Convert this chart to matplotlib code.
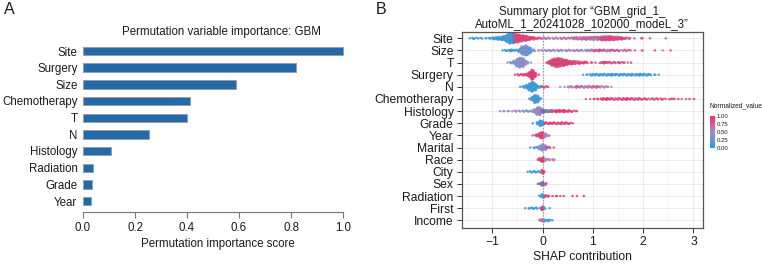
import numpy as np
import matplotlib
matplotlib.use("Agg")
import matplotlib.pyplot as plt
from matplotlib.colors import LinearSegmentedColormap, Normalize
from matplotlib.colorbar import ColorbarBase

plt.rcParams['font.family'] = ['Liberation Sans', 'DejaVu Sans']

# ---------------- Panel A data ----------------
perm_features = ["Site", "Surgery", "Size", "Chemotherapy", "T", "N",
                 "Histology", "Radiation", "Grade", "Year"]
perm_scores = [1.00, 0.82, 0.59, 0.41, 0.40, 0.253, 0.106, 0.037, 0.033, 0.030]
perm_ticks = [0.0, 0.2, 0.4, 0.6, 0.8, 1.0]

# ---------------- Panel B data ----------------
shap_features = ["Site", "Size", "T", "Surgery", "N", "Chemotherapy", "Histology",
                 "Grade", "Year", "Marital", "Race", "City", "Sex", "Radiation",
                 "First", "Income"]
shap_ticks = [-1, 0, 1, 2, 3]
BIN = 0.05  # width of each SHAP bin

# bin counts (visible dots per 0.05-wide bin), starting at *_start
site_start = -1.45
site_counts = [1, 2, 2, 1, 1, 2, 1, 1, 2, 3,
               4, 5, 6, 8, 10, 16, 25, 22, 20, 18,
               16, 13, 11, 9, 7, 5, 4, 3, 2, 2,
               2, 2, 2, 2, 2, 2, 2, 2, 2, 2,
               2, 3, 4, 5, 5, 5, 5, 6, 6, 6,
               6, 7, 7, 8, 9, 9, 8, 8, 7, 6,
               5, 4, 3, 2, 1, 0, 1, 0, 1, 1,
               0, 0, 1, 0, 0, 0, 0, 0, 1]
site_colors = [(-0.575, 0.0, 0.15), (-0.025, 0.8, 0.95), (0.575, 0.5, 0.7),
               (1.125, 0.55, 0.8), (9, 0.8, 0.95)]

size_start = -0.80
size_counts = [1, 2, 2, 3, 3, 2, 3, 8, 18, 22,
               20, 12, 4, 2, 1, 1, 2, 2, 2, 2,
               2, 2, 2, 2, 2, 2, 2, 2, 2, 2,
               2, 2, 2, 2, 3, 3, 3, 3, 3, 3,
               3, 3, 3, 3, 2, 2, 2, 2, 2, 2,
               2, 1, 0, 1, 0, 1, 1, 0, 0, 0,
               0, 1, 0, 0, 1, 0, 0, 1]
size_colors = [(-0.475, 0.0, 0.2), (-0.175, 0.1, 0.45), (1.0, 0.4, 0.6), (9, 0.6, 0.9)]

t_start = -0.70
t_counts = [1, 2, 3, 8, 16, 22, 20, 12, 4, 1,
            0, 0, 0, 0, 0, 0, 3, 8, 14, 18,
            20, 18, 15, 12, 10, 8, 7, 6, 5, 4,
            3, 3, 2, 1, 1, 1, 0, 2, 3, 3,
            2, 3, 2, 2, 2, 2, 1, 1, 1, 1]
t_colors = [(0.0, 0.3, 0.5), (9, 0.8, 0.98)]

surgery_start = -0.55
surgery_counts = [1, 2, 2, 2, 3, 4, 12, 22, 10, 1,
                  0, 0, 0, 0, 0, 0, 0, 0, 0, 0,
                  0, 0, 0, 0, 0, 0, 0, 1, 1, 1,
                  2, 3, 3, 3, 3, 3, 3, 3, 3, 3,
                  3, 3, 3, 3, 3, 3, 3, 3, 3, 3,
                  3, 3, 3, 3, 2, 1, 1, 1]
surgery_colors = [(0.0, 0.9, 1.0), (9, 0.0, 0.1)]

n_start = -0.45
n_counts = [1, 2, 4, 8, 16, 22, 16, 6, 3, 3,
            2, 1, 0, 0, 0, 0, 1, 0, 1, 1,
            2, 2, 3, 3, 3, 3, 3, 3, 3, 3,
            3, 3, 3, 2, 2, 1, 1]
n_colors = [(-0.025, 0.0, 0.15), (0.2, 0.9, 1.0), (9, 0.5, 0.8)]

chemo_start = -0.25
chemo_counts = [2, 8, 18, 14, 4, 0, 0, 0, 0, 0,
                0, 0, 0, 0, 0, 0, 0, 0, 0, 0,
                0, 0, 1, 0, 1, 1, 1, 2, 2, 3,
                3, 3, 3, 3, 3, 3, 3, 3, 3, 3,
                3, 3, 3, 3, 3, 2, 2, 2, 2, 2,
                2, 2, 2, 2, 1, 1, 2, 1, 1, 1,
                1, 0, 1, 1, 0, 1]
chemo_colors = [(0.0, 0.0, 0.2), (9, 0.75, 1.0)]

histology_start = -0.85
histology_counts = [1, 1, 1, 1, 1, 1, 2, 1, 2, 2,
                    2, 2, 2, 3, 8, 16, 18, 8, 5, 4,
                    4, 4, 4, 4, 4, 4, 4, 3, 3, 2,
                    1, 1]
histology_colors = [(-0.025, 0.35, 0.55), (0.2, 0.0, 1.0), (9, 0.85, 1.0)]

grade_start = -0.20
grade_counts = [1, 0, 4, 12, 8, 3, 3, 3, 3, 3, 3, 3, 3, 3, 3, 2, 1]
grade_colors = [(0.025, 0.0, 0.1), (9, 0.85, 1.0)]

year_start = -0.20
year_counts = [1, 2, 4, 10, 14, 8, 3, 1]
year_colors = [(0.025, 0.85, 1.0), (9, 0.4, 0.6)]

marital_start = -0.25
marital_counts = [1, 1, 2, 2, 8, 14, 10, 3, 2, 1]
marital_colors = [(-0.075, 0.05, 0.3), (0.075, 0.3, 0.55), (9, 0.7, 0.9)]

race_start = -0.10
race_counts = [1, 6, 10, 3, 2, 2, 2, 1]
race_colors = [(0.025, 0.9, 1.0), (9, 0.45, 0.65)]

city_start = -0.30
city_counts = [1, 2, 2, 2, 2, 2, 8, 1]
city_colors = [(-0.025, 0.0, 0.1), (9, 0.9, 1.0)]

sex_start = -0.10
sex_counts = [1, 4, 8, 3]
sex_colors = [(9, 0.0, 1.0)]

radiation_start = -0.05
radiation_counts = [2, 8, 3, 2, 1, 1, 1, 1, 1, 1, 0, 0, 0, 1, 0, 1, 0, 1]
radiation_colors = [(0.025, 0.0, 0.1), (9, 0.9, 1.0)]

first_start = -0.35
first_counts = [1, 1, 2, 2, 2, 2, 2, 8, 2, 0, 1]
first_colors = [(-0.025, 0.0, 0.1), (0.025, 0.9, 1.0), (9, 0.0, 0.1)]

income_start = -0.05
income_counts = [2, 6, 3, 3, 2, 1]
income_colors = [(0.025, 0.6, 0.8), (9, 0.0, 0.15)]

shap_rows = [
    (site_start, site_counts, site_colors),
    (size_start, size_counts, size_colors),
    (t_start, t_counts, t_colors),
    (surgery_start, surgery_counts, surgery_colors),
    (n_start, n_counts, n_colors),
    (chemo_start, chemo_counts, chemo_colors),
    (histology_start, histology_counts, histology_colors),
    (grade_start, grade_counts, grade_colors),
    (year_start, year_counts, year_colors),
    (marital_start, marital_counts, marital_colors),
    (race_start, race_counts, race_colors),
    (city_start, city_counts, city_colors),
    (sex_start, sex_counts, sex_colors),
    (radiation_start, radiation_counts, radiation_colors),
    (first_start, first_counts, first_colors),
    (income_start, income_counts, income_colors),
]
cbar_ticks = [0.0, 0.25, 0.5, 0.75, 1.0]

# ---------------- Figure ----------------
W, H = 762, 265
fig = plt.figure(figsize=(W / 100, H / 100), dpi=100)
FS = 8.3
FSB = 8.7
TXT = '#1a1a1a'


def fx(px):
    return px / W


def fy(py):
    return 1 - py / H


# ----- Panel A -----
axA = fig.add_axes([fx(83), fy(212), fx(353.4 - 83), (212 - 41) / H])
ypos = np.arange(len(perm_features))[::-1]
axA.barh(ypos, perm_scores, height=0.5, color='#2469A8', edgecolor='#9a9a9a',
         linewidth=0.6)
axA.set_xlim(0, 1.04)
axA.set_ylim(-0.66, 9.6)
axA.set_yticks(ypos)
axA.set_yticklabels(perm_features, fontsize=FS, color=TXT)
axA.tick_params(axis='y', length=0, pad=4)
axA.set_xticks(perm_ticks)
axA.set_xticklabels([f"{t:.1f}" for t in perm_ticks], fontsize=FS, color=TXT)
axA.tick_params(axis='x', length=4, width=0.8, color='#777777', pad=3)
for s in ['top', 'right', 'left']:
    axA.spines[s].set_visible(False)
axA.spines['bottom'].set_bounds(0, 1)
axA.spines['bottom'].set_color('#777777')
axA.spines['bottom'].set_linewidth(0.8)
axA.set_xlabel("Permutation importance score", fontsize=FS, color=TXT, labelpad=3)
fig.text(fx(221.7), fy(32), "Permutation variable importance: GBM", fontsize=FS,
         color=TXT, ha='center', va='center')
fig.text(fx(4), fy(10), "A", fontsize=11.5, ha='left', va='center', color=TXT)

# ----- Panel B -----
cmap = LinearSegmentedColormap.from_list(
    "shap", ["#2E9CDB", "#A58CC6", "#E8336A"])
norm = Normalize(0, 1)

axB = fig.add_axes([fx(462), fy(228), fx(703 - 462), (228 - 32) / H])
nrow = len(shap_features)
axB.set_xlim(-1.6, 3.19)
axB.set_ylim(-0.63, nrow - 1 + 0.52)
axB.set_xticks(shap_ticks)
axB.set_xticklabels(["\u22121", "0", "1", "2", "3"], fontsize=FSB, color=TXT)
axB.set_xticks([-1.5, -0.5, 0.5, 1.5, 2.5], minor=True)
axB.set_yticks(np.arange(nrow))
axB.set_yticklabels(shap_features[::-1], fontsize=FSB, color=TXT)
axB.tick_params(which='major', length=3.5, width=0.7, color='#333333', pad=2.5)
axB.tick_params(which='minor', length=0)
axB.grid(which='major', color='#EBEBEB', linewidth=0.7)
axB.grid(which='minor', axis='x', color='#F2F2F2', linewidth=0.4)
axB.set_axisbelow(True)
for s in axB.spines.values():
    s.set_color('#555555')
    s.set_linewidth(0.9)
axB.axvline(0, color='#8c8c8c', linestyle=(0, (1, 1.4)), linewidth=0.9, zorder=1)

xs, ys, cs = [], [], []
for r, (start, counts, csegs) in enumerate(shap_rows):
    row = nrow - 1 - r
    for i, n in enumerate(counts):
        if n == 0:
            continue
        c = start + i * BIN
        h = min(0.42, 0.018 * n)
        yoff = np.linspace(-h, h, n) if n > 1 else np.array([0.0])
        for j in range(n):
            off = ((j + 1) * 0.6180339 + i * 0.37) % 1.0 - 0.5
            x = c + off * BIN
            for lim, va, vb in csegs:
                if c < lim:
                    v = va if (i + j) % 2 == 0 else vb
                    break
            xs.append(x)
            ys.append(row + yoff[j])
            cs.append(v)
axB.scatter(xs, ys, c=cs, cmap=cmap, norm=norm, s=3.2, linewidths=0,
            alpha=0.85, zorder=2)

axB.set_xlabel("SHAP contribution", fontsize=FSB, color=TXT, labelpad=2)
fig.text(fx(582), fy(12), "Summary plot for \u201cGBM_grid_1_", fontsize=FS,
         color=TXT, ha='center', va='center')
fig.text(fx(582), fy(24), "AutoML_1_20241028_102000_modeL_3\u201d", fontsize=FS,
         color=TXT, ha='center', va='center')
fig.text(fx(376), fy(10), "B", fontsize=11.5, ha='left', va='center', color=TXT)

# colorbar
cax = fig.add_axes([fx(710), fy(148), fx(4.5), 32 / H])
cb = ColorbarBase(cax, cmap=cmap, norm=norm, ticks=cbar_ticks)
cb.outline.set_visible(False)
cax.tick_params(length=0, pad=1.5, labelsize=4.3, colors=TXT)
cax.set_yticklabels([f"{t:.2f}" for t in cbar_ticks])
fig.text(fx(709), fy(106), "Normalized_value", fontsize=4.8, color=TXT,
         ha='left', va='center')

fig.savefig("out.png", dpi=100)
